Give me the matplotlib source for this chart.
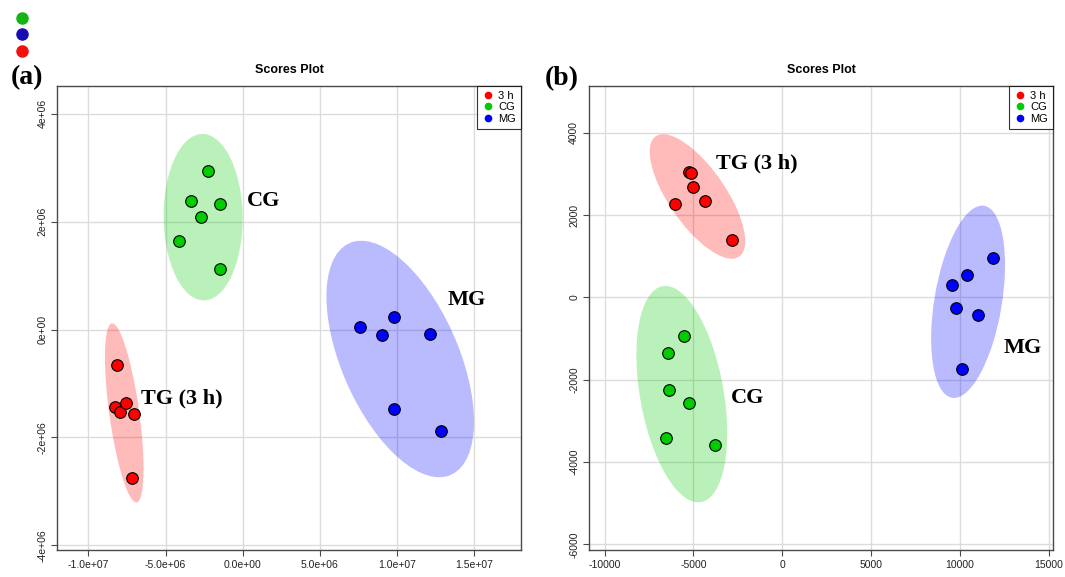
import numpy as np
import matplotlib
matplotlib.use("Agg")
import matplotlib.pyplot as plt
from matplotlib.patches import Ellipse
from matplotlib.lines import Line2D

# ---- data ----
groups = ["3 h", "CG", "MG"]
labels = {"3 h": "TG (3 h)", "CG": "CG", "MG": "MG"}

# panel (a) scores
a_tg_x = [-8.12e6, -8.25e6, -7.95e6, -7.57e6, -7.02e6, -7.16e6]
a_tg_y = [-0.65e6, -1.43e6, -1.52e6, -1.36e6, -1.56e6, -2.75e6]
a_cg_x = [-2.24e6, -3.36e6, -1.49e6, -2.72e6, -4.10e6, -1.47e6]
a_cg_y = [2.94e6, 2.38e6, 2.33e6, 2.09e6, 1.64e6, 1.13e6]
a_mg_x = [7.64e6, 9.02e6, 9.83e6, 12.12e6, 9.81e6, 12.88e6]
a_mg_y = [0.04e6, -0.10e6, 0.23e6, -0.08e6, -1.48e6, -1.88e6]

# panel (b) scores
b_tg_x = [-5250, -5150, -5027, -6045, -4374, -2819]
b_tg_y = [3040, 3030, 2674, 2261, 2342, 1387]
b_cg_x = [-5507, -6410, -6371, -5276, -6563, -3817]
b_cg_y = [-942, -1339, -2237, -2553, -3427, -3597]
b_mg_x = [11834, 10413, 9568, 9760, 11027, 10124]
b_mg_y = [966, 537, 311, -263, -433, -1747]

a_xticks = [-1.0e7, -5.0e6, 0.0, 5.0e6, 1.0e7, 1.5e7]
a_xticklabels = ["-1.0e+07", "-5.0e+06", "0.0e+00", "5.0e+06", "1.0e+07", "1.5e+07"]
a_yticks = [-4e6, -2e6, 0, 2e6, 4e6]
a_yticklabels = ["-4e+06", "-2e+06", "0e+00", "2e+06", "4e+06"]
b_xticks = [-10000, -5000, 0, 5000, 10000, 15000]
b_yticks = [-6000, -4000, -2000, 0, 2000, 4000]

colors = {"3 h": "#ff0000", "CG": "#00cd00", "MG": "#0000ff"}

plt.rcParams["font.family"] = ["Liberation Sans", "DejaVu Sans"]
plt.rcParams["axes.unicode_minus"] = False

fig = plt.figure(figsize=(10.65, 5.77), dpi=100)
axa = fig.add_axes([0.0535, 0.0468, 0.4357, 0.8042])
axb = fig.add_axes([0.5530, 0.0468, 0.4357, 0.8042])


def conf_ellipse(ax, x, y, color):
    x = np.asarray(x, float)
    y = np.asarray(y, float)
    cov = np.cov(x, y)
    vals, vecs = np.linalg.eigh(cov)
    order = vals.argsort()[::-1]
    vals, vecs = vals[order], vecs[:, order]
    k = np.sqrt(5.991)  # 95% chi-square, 2 df
    angle = np.degrees(np.arctan2(vecs[1, 0], vecs[0, 0]))
    e = Ellipse((x.mean(), y.mean()), 2 * k * np.sqrt(vals[0]), 2 * k * np.sqrt(vals[1]),
                angle=angle, facecolor=color, alpha=0.27, edgecolor="none", zorder=1)
    ax.add_patch(e)


def style(ax, xlim, ylim, xticks, yticks, xlabels=None, ylabels=None):
    ax.set_xlim(*xlim)
    ax.set_ylim(*ylim)
    ax.set_xticks(xticks)
    ax.set_yticks(yticks)
    if xlabels:
        ax.set_xticklabels(xlabels)
    if ylabels:
        ax.set_yticklabels(ylabels)
    ax.grid(True, color="#dcdcdc", lw=1.0, zorder=0)
    ax.set_axisbelow(True)
    for s in ax.spines.values():
        s.set_color("#4a4a4a")
        s.set_linewidth(1.0)
    ax.tick_params(direction="out", length=4, width=0.8, color="#4a4a4a",
                   labelsize=7.5, labelcolor="#222222", pad=3)
    for t in ax.get_yticklabels():
        t.set_rotation(90)
        t.set_va("center")
    ax.set_title("Scores Plot", fontsize=9, fontweight="bold", pad=9)


def scatter_groups(ax, data):
    for g, (x, y) in zip(groups, data):
        conf_ellipse(ax, x, y, colors[g])
    for g, (x, y) in zip(groups, data):
        ax.scatter(x, y, s=70, c=colors[g], edgecolors="black", linewidths=0.8, zorder=3)
    handles = [Line2D([], [], marker="o", ls="none", color=colors[g], markersize=4.5) for g in groups]
    leg = ax.legend(handles, groups, loc="upper right", fontsize=8, frameon=True,
                    fancybox=False, borderaxespad=0, handletextpad=0.3, borderpad=0.45,
                    labelspacing=0.12, handlelength=1.2)
    leg.get_frame().set_edgecolor("black")
    leg.get_frame().set_linewidth(0.8)


scatter_groups(axa, [(a_tg_x, a_tg_y), (a_cg_x, a_cg_y), (a_mg_x, a_mg_y)])
style(axa, (-1.204e7, 1.805e7), (-4.087e6, 4.518e6), a_xticks, a_yticks,
      a_xticklabels, a_yticklabels)

scatter_groups(axb, [(b_tg_x, b_tg_y), (b_cg_x, b_cg_y), (b_mg_x, b_mg_y)])
style(axb, (-10884, 15231), (-6138, 5141), b_xticks, b_yticks)

big = dict(fontsize=16, fontweight="bold", family=["Liberation Serif", "DejaVu Serif"],
           va="center", ha="left", zorder=4)
axa.text(0.3e6, 2.38e6, labels["CG"], **big)
axa.text(13.26e6, 0.54e6, labels["MG"], **big)
axa.text(-6.61e6, -1.27e6, labels["3 h"], **big)
axb.text(-3740, 3264, labels["3 h"], **big)
axb.text(-2876, -2440, labels["CG"], **big)
axb.text(12446, -1234, labels["MG"], **big)

panel = dict(fontsize=20, fontweight="bold", family=["Liberation Serif", "DejaVu Serif"],
             va="center", ha="left")
fig.text(11 / 1065, 1 - 78 / 577, "(a)", **panel)
fig.text(545 / 1065, 1 - 79 / 577, "(b)", **panel)

# stray colour dots in the top-left corner
dot_colors = ["#14b414", "#1a0ab4", "#f51010"]
dot_y = [18, 34, 51]
for c, yy in zip(dot_colors, dot_y):
    fig.add_artist(Line2D([22 / 1065], [1 - yy / 577], marker="o", markersize=8,
                          color=c, ls="none", transform=fig.transFigure))

fig.savefig("out.png", dpi=100)
